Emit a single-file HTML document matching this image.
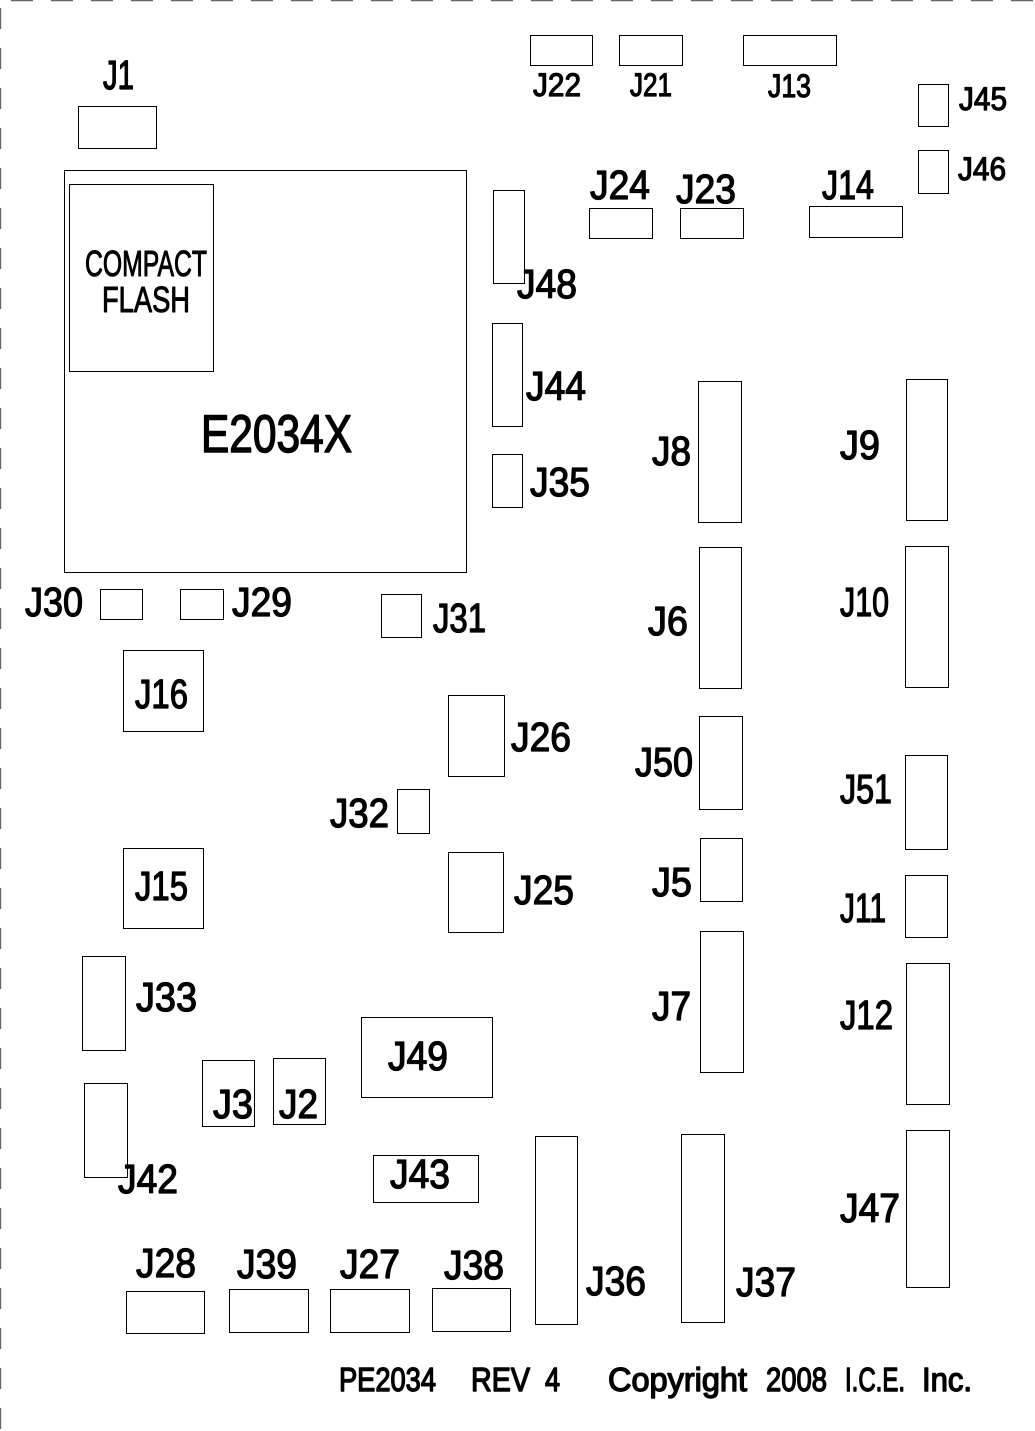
<!DOCTYPE html>
<html><head><meta charset="utf-8"><style>
html,body{margin:0;padding:0;background:#fff}
svg{display:block}
rect{fill:none;stroke:#000;stroke-width:1;shape-rendering:crispEdges}
text{font-family:"Liberation Sans",sans-serif;fill:#000;stroke:#000;stroke-width:1.3;stroke-linejoin:round;font-size:41px}
.s{font-size:32px;stroke-width:1.2}
.m{font-size:36px;stroke-width:1}
.e{font-size:53px;stroke-width:1.5}
.b{font-size:33px;stroke-width:1.4}
</style></head><body>
<svg width="1035" height="1431" viewBox="0 0 1035 1431" xmlns="http://www.w3.org/2000/svg">
<line x1="11" y1="0.5" x2="1035" y2="0.5" stroke="#666" stroke-width="1.4" stroke-dasharray="22 18"/>
<line x1="0.5" y1="8" x2="0.5" y2="1431" stroke="#666" stroke-width="1.4" stroke-dasharray="21 19"/>

<rect x="78.5" y="106.5" width="78" height="42"/>
<rect x="64.5" y="170.5" width="402" height="402"/>
<rect x="69.5" y="184.5" width="144" height="187"/>
<rect x="530.5" y="35.5" width="62" height="30"/>
<rect x="619.5" y="35.5" width="63" height="30"/>
<rect x="743.5" y="35.5" width="93" height="30"/>
<rect x="918.5" y="84.5" width="30" height="42"/>
<rect x="918.5" y="150.5" width="30" height="43"/>
<rect x="589.5" y="208.5" width="63" height="30"/>
<rect x="680.5" y="208.5" width="63" height="30"/>
<rect x="809.5" y="206.5" width="93" height="31"/>
<rect x="493.5" y="190.5" width="31" height="93"/>
<rect x="492.5" y="323.5" width="30" height="103"/>
<rect x="492.5" y="454.5" width="30" height="53"/>
<rect x="698.5" y="381.5" width="43" height="141"/>
<rect x="906.5" y="379.5" width="41" height="141"/>
<rect x="699.5" y="547.5" width="42" height="141"/>
<rect x="905.5" y="546.5" width="43" height="141"/>
<rect x="699.5" y="716.5" width="43" height="93"/>
<rect x="905.5" y="755.5" width="42" height="94"/>
<rect x="700.5" y="838.5" width="42" height="63"/>
<rect x="905.5" y="875.5" width="42" height="62"/>
<rect x="700.5" y="931.5" width="43" height="141"/>
<rect x="906.5" y="963.5" width="43" height="141"/>
<rect x="906.5" y="1130.5" width="43" height="157"/>
<rect x="681.5" y="1134.5" width="43" height="188"/>
<rect x="535.5" y="1136.5" width="42" height="188"/>
<rect x="100.5" y="589.5" width="42" height="30"/>
<rect x="180.5" y="589.5" width="43" height="30"/>
<rect x="381.5" y="594.5" width="40" height="43"/>
<rect x="123.5" y="650.5" width="80" height="81"/>
<rect x="448.5" y="695.5" width="56" height="81"/>
<rect x="397.5" y="789.5" width="32" height="44"/>
<rect x="448.5" y="852.5" width="55" height="80"/>
<rect x="123.5" y="848.5" width="80" height="80"/>
<rect x="82.5" y="956.5" width="43" height="94"/>
<rect x="84.5" y="1083.5" width="43" height="94"/>
<rect x="202.5" y="1060.5" width="52" height="66"/>
<rect x="273.5" y="1058.5" width="52" height="66"/>
<rect x="361.5" y="1017.5" width="131" height="80"/>
<rect x="373.5" y="1155.5" width="105" height="47"/>
<rect x="126.5" y="1291.5" width="78" height="42"/>
<rect x="229.5" y="1289.5" width="79" height="43"/>
<rect x="330.5" y="1289.5" width="79" height="43"/>
<rect x="432.5" y="1288.5" width="78" height="43"/>

<text x="103" y="89" textLength="31" lengthAdjust="spacingAndGlyphs">J1</text>
<text class="s" x="533" y="96" textLength="48" lengthAdjust="spacingAndGlyphs">J22</text>
<text class="s" x="630" y="96" textLength="42" lengthAdjust="spacingAndGlyphs">J21</text>
<text class="s" x="768" y="97" textLength="43" lengthAdjust="spacingAndGlyphs">J13</text>
<text class="s" x="959" y="110" textLength="48" lengthAdjust="spacingAndGlyphs">J45</text>
<text class="s" x="958" y="180" textLength="48" lengthAdjust="spacingAndGlyphs">J46</text>
<text x="590" y="199" textLength="60" lengthAdjust="spacingAndGlyphs">J24</text>
<text x="676" y="203" textLength="60" lengthAdjust="spacingAndGlyphs">J23</text>
<text x="822" y="199" textLength="52" lengthAdjust="spacingAndGlyphs">J14</text>
<text x="517" y="298" textLength="60" lengthAdjust="spacingAndGlyphs">J48</text>
<text x="526" y="400" textLength="60" lengthAdjust="spacingAndGlyphs">J44</text>
<text x="530" y="496" textLength="60" lengthAdjust="spacingAndGlyphs">J35</text>
<text x="652" y="465" textLength="39" lengthAdjust="spacingAndGlyphs">J8</text>
<text x="840" y="459" textLength="40" lengthAdjust="spacingAndGlyphs">J9</text>
<text x="648" y="635" textLength="40" lengthAdjust="spacingAndGlyphs">J6</text>
<text x="840" y="616" textLength="49" lengthAdjust="spacingAndGlyphs">J10</text>
<text x="635" y="776" textLength="58" lengthAdjust="spacingAndGlyphs">J50</text>
<text x="840" y="803" textLength="52" lengthAdjust="spacingAndGlyphs">J51</text>
<text x="652" y="896" textLength="40" lengthAdjust="spacingAndGlyphs">J5</text>
<text x="840" y="922" textLength="46" lengthAdjust="spacingAndGlyphs">J11</text>
<text x="652" y="1020" textLength="39" lengthAdjust="spacingAndGlyphs">J7</text>
<text x="840" y="1029" textLength="53" lengthAdjust="spacingAndGlyphs">J12</text>
<text x="840" y="1222" textLength="60" lengthAdjust="spacingAndGlyphs">J47</text>
<text x="736" y="1296" textLength="60" lengthAdjust="spacingAndGlyphs">J37</text>
<text x="586" y="1295" textLength="60" lengthAdjust="spacingAndGlyphs">J36</text>
<text x="25" y="616" textLength="58" lengthAdjust="spacingAndGlyphs">J30</text>
<text x="232" y="616" textLength="60" lengthAdjust="spacingAndGlyphs">J29</text>
<text x="433" y="632" textLength="53" lengthAdjust="spacingAndGlyphs">J31</text>
<text x="135" y="708" textLength="53" lengthAdjust="spacingAndGlyphs">J16</text>
<text x="511" y="751" textLength="60" lengthAdjust="spacingAndGlyphs">J26</text>
<text x="330" y="827" textLength="59" lengthAdjust="spacingAndGlyphs">J32</text>
<text x="514" y="904" textLength="60" lengthAdjust="spacingAndGlyphs">J25</text>
<text x="135" y="900" textLength="53" lengthAdjust="spacingAndGlyphs">J15</text>
<text x="136" y="1011" textLength="61" lengthAdjust="spacingAndGlyphs">J33</text>
<text x="118" y="1193" textLength="60" lengthAdjust="spacingAndGlyphs">J42</text>
<text x="213" y="1118" textLength="40" lengthAdjust="spacingAndGlyphs">J3</text>
<text x="279" y="1118" textLength="39" lengthAdjust="spacingAndGlyphs">J2</text>
<text x="388" y="1070" textLength="60" lengthAdjust="spacingAndGlyphs">J49</text>
<text x="390" y="1188" textLength="60" lengthAdjust="spacingAndGlyphs">J43</text>
<text x="136" y="1277" textLength="60" lengthAdjust="spacingAndGlyphs">J28</text>
<text x="237" y="1278" textLength="60" lengthAdjust="spacingAndGlyphs">J39</text>
<text x="340" y="1278" textLength="60" lengthAdjust="spacingAndGlyphs">J27</text>
<text x="444" y="1279" textLength="60" lengthAdjust="spacingAndGlyphs">J38</text>
<text class="e" x="201" y="452" textLength="151" lengthAdjust="spacingAndGlyphs">E2034X</text>
<text class="m" x="85" y="276" textLength="122" lengthAdjust="spacingAndGlyphs">COMPACT</text>
<text class="m" x="102" y="312" textLength="88" lengthAdjust="spacingAndGlyphs">FLASH</text>
<text class="b" x="339" y="1391" textLength="97" lengthAdjust="spacingAndGlyphs">PE2034</text>
<text class="b" x="471" y="1391" textLength="59" lengthAdjust="spacingAndGlyphs">REV</text>
<text class="b" x="545" y="1391" textLength="15" lengthAdjust="spacingAndGlyphs">4</text>
<text class="b" x="608" y="1391" textLength="139" lengthAdjust="spacingAndGlyphs">Copyright</text>
<text class="b" x="766" y="1391" textLength="61" lengthAdjust="spacingAndGlyphs">2008</text>
<text class="b" x="845" y="1391" textLength="60" lengthAdjust="spacingAndGlyphs">I.C.E.</text>
<text class="b" x="922" y="1391" textLength="50" lengthAdjust="spacingAndGlyphs">Inc.</text>
</svg>
</body></html>
